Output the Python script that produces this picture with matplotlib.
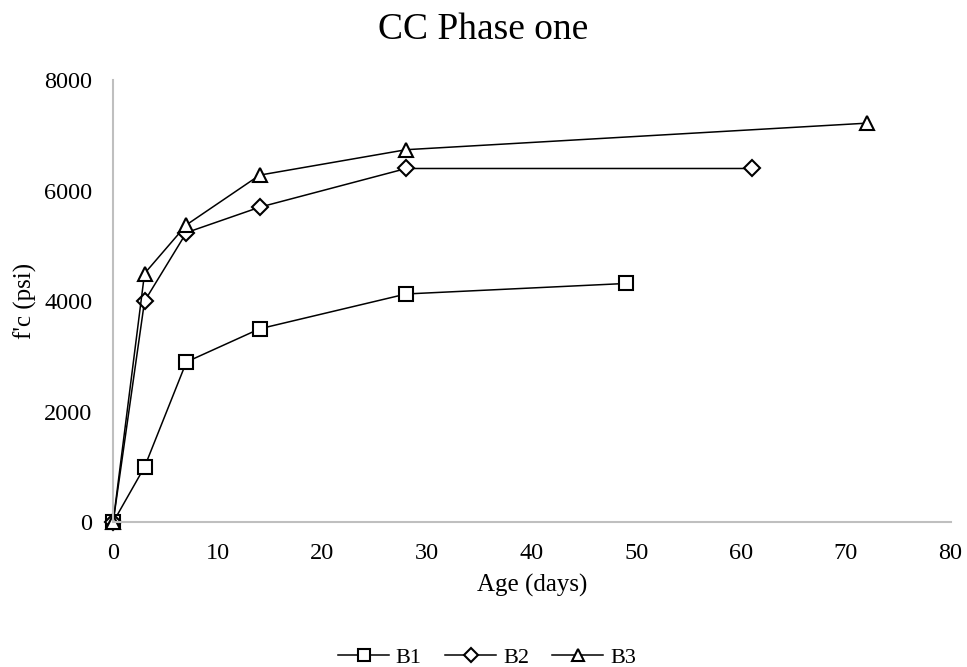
import matplotlib.pyplot as plt

# datos
dias_b1 = [0, 3, 7, 14, 28, 49]
fc_b1 = [0, 1000, 2900, 3500, 4130, 4320]
dias_b2 = [0, 3, 7, 14, 28, 61]
fc_b2 = [0, 4000, 5240, 5700, 6400, 6400]
dias_b3 = [0, 3, 7, 14, 28, 72]
fc_b3 = [0, 4500, 5380, 6280, 6740, 7220]

plt.rcParams['font.family'] = ['Liberation Serif', 'DejaVu Serif']

fig = plt.figure(figsize=(9.67, 6.67), dpi=100)
ax = fig.add_axes([0.117, 0.217, 0.866, 0.663])

estilo = dict(color='black', linewidth=1.1, markersize=10, markerfacecolor='white',
              markeredgewidth=1.5, clip_on=False)
ax.plot(dias_b1, fc_b1, marker='s', label='B1', **estilo)
ax.plot(dias_b2, fc_b2, marker='D', label='B2', **dict(estilo, markersize=8))
ax.plot(dias_b3, fc_b3, marker='^', label='B3', **estilo)

ax.set_xlim(0, 80)
ax.set_ylim(0, 8000)
ax.set_xticks(range(0, 81, 10))
ax.set_yticks(range(0, 8001, 2000))
ax.tick_params(length=0, labelsize=17.5)
ax.tick_params(axis='x', pad=15)
ax.tick_params(axis='y', pad=15)
for lado in ['top', 'right']:
    ax.spines[lado].set_visible(False)
for lado in ['left', 'bottom']:
    ax.spines[lado].set_color('#BFBFBF')
    ax.spines[lado].set_linewidth(1.5)

ax.set_xlabel('Age (days)', fontsize=18, labelpad=7)
ax.set_ylabel("f'c (psi)", fontsize=18, labelpad=5)
fig.suptitle('CC Phase one', fontsize=27, y=0.982)

fig.legend(loc='center', bbox_to_anchor=(0.5036, 0.014), ncol=3, frameon=False,
           fontsize=16, handlelength=2.3, columnspacing=1.05, handletextpad=0.3,
           markerscale=0.9)

fig.savefig('out.png', dpi=100)
